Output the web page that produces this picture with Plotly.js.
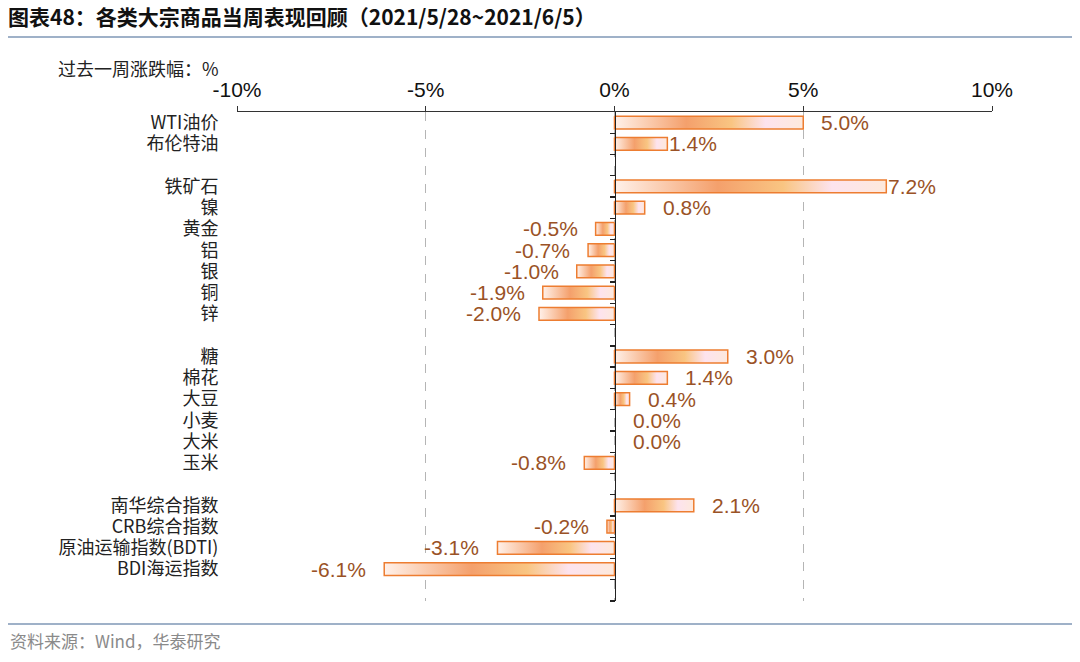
<!DOCTYPE html>
<html>
<head>
<meta charset="utf-8">
<script src="https://cdn.plot.ly/plotly-3.0.1.min.js"></script>
<style>html,body{margin:0;padding:0;background:#fff;}#chart{width:1080px;height:662px;}</style>
</head>
<body>
<div id="chart"></div>
<script>
// ---- data ----
const energyNames = ['WTI油价', '布伦特油'];
const energyVals = [5.0, 1.4];
const metalNames = ['铁矿石', '镍', '黄金', '铝', '银', '铜', '锌'];
const metalVals = [7.2, 0.8, -0.5, -0.7, -1.0, -1.9, -2.0];
const agriNames = ['糖', '棉花', '大豆', '小麦', '大米', '玉米'];
const agriVals = [3.0, 1.4, 0.4, 0.0, 0.0, -0.8];
const indexNames = ['南华综合指数', 'CRB综合指数', '原油运输指数(BDTI)', 'BDI海运指数'];
const indexVals = [2.1, -0.2, -3.1, -6.1];
const xTickVals = [-10, -5, 0, 5, 10];
const xTickText = ['-10%', '-5%', '0%', '5%', '10%'];

// ---- build rows (blank slot after each group) ----
const groups = [[energyNames, energyVals], [metalNames, metalVals], [agriNames, agriVals], [indexNames, indexVals]];
const rowPos = [], rowNames = [], rowVals = [];
let k = 0;
groups.forEach(([names, vals]) => {
  names.forEach((n, j) => { rowPos.push(k); rowNames.push(n); rowVals.push(vals[j]); k++; });
  k++; // gap slot
});
const nSlots = k;
const tightLabels = ['布伦特油', '铁矿石'];

// pixel helpers (plot area: left 237, width 755, top 112, height 489)
const PX = p => (p - 237) / 755;
const PY = p => 1 - (p - 112) / 489;

const grad = [[0, '#fff1ea'], [0.12, '#fcd8c2'], [0.38, '#f4a06c'], [0.62, '#f9c582'], [0.8, '#fde3ee'], [1, '#fde9dc']];
const half = 0.3;

const traces = [];
rowVals.forEach((v, i) => {
  if (v === 0) return;
  const y = rowPos[i];
  traces.push({
    type: 'scatter', mode: 'lines',
    x: [0, v, v, 0, 0],
    y: [y - half, y - half, y + half, y + half, y - half],
    fill: 'toself',
    fillgradient: { type: 'horizontal', colorscale: grad },
    line: { color: '#ed7d31', width: 1.5 },
    hoverinfo: 'skip', showlegend: false
  });
});
// empty trace so the zero-position axis (y2) is drawn
traces.push({ type: 'scatter', mode: 'lines', x: [], y: [], yaxis: 'y2', showlegend: false, hoverinfo: 'skip' });

const annotations = rowVals.map((v, i) => {
  const pos = v >= 0;
  const shift = tightLabels.includes(rowNames[i]) ? 0 : 16;
  return {
    x: v, y: rowPos[i], xref: 'x', yref: 'y',
    text: v.toFixed(1) + '%', showarrow: false,
    xanchor: pos ? 'left' : 'right', yanchor: 'middle',
    xshift: pos ? shift : -shift,
    font: { family: 'Liberation Sans, Arial, sans-serif', size: 21, color: '#9a5226' }
  };
});
annotations.push({
  x: PX(221), y: PY(68), xref: 'paper', yref: 'paper',
  text: '过去一周涨跌幅：%', showarrow: false, xanchor: 'right', yanchor: 'middle',
  font: { family: 'Noto Sans CJK SC, sans-serif', size: 18, color: '#222' }
});
annotations.push({
  x: PX(8), y: PY(640), xref: 'paper', yref: 'paper',
  text: '资料来源：Wind，华泰研究', showarrow: false, xanchor: 'left', yanchor: 'middle',
  font: { family: 'Noto Sans CJK SC, sans-serif', size: 17, color: '#8a8a8a' }
});

const boundaries = [];
for (let b = 0; b < nSlots; b++) boundaries.push(b + 0.5);

const layout = {
  width: 1080, height: 662,
  paper_bgcolor: '#fff', plot_bgcolor: '#fff',
  margin: { l: 237, r: 88, t: 112, b: 61 },
  title: {
    text: '<b>图表48：各类大宗商品当周表现回顾（2021/5/28~2021/6/5）</b>',
    xref: 'container', yref: 'container', x: 8 / 1080, xanchor: 'left',
    y: 1 - 18 / 662, yanchor: 'middle',
    font: { family: 'Noto Sans CJK SC, sans-serif', size: 21, color: '#111' }
  },
  xaxis: {
    side: 'top', range: [-10, 10], tickvals: xTickVals, ticktext: xTickText,
    showline: true, linecolor: '#333', linewidth: 1.3,
    ticks: 'outside', ticklen: 5, tickcolor: '#333',
    showgrid: true, gridcolor: '#b5b5b5', griddash: 'dash', gridwidth: 1,
    zeroline: false, fixedrange: true,
    tickfont: { family: 'Liberation Sans, Arial, sans-serif', size: 21, color: '#111' }
  },
  yaxis: {
    range: [nSlots - 0.5, -0.5], tickvals: rowPos, ticktext: rowNames,
    showline: false, showgrid: false, zeroline: false,
    ticks: 'outside', ticklen: 14, tickcolor: 'rgba(0,0,0,0)',
    tickfont: { family: 'Noto Sans CJK SC, sans-serif', size: 18, color: '#222' }
  },
  yaxis2: {
    overlaying: 'y', anchor: 'free', position: 0.5, side: 'left',
    range: [nSlots - 0.5, -0.5], tickvals: boundaries,
    showticklabels: false, ticks: 'outside', ticklen: 5, tickcolor: '#222', tickwidth: 1.3,
    showline: true, linecolor: '#222', linewidth: 1.6,
    showgrid: false, zeroline: false
  },
  shapes: [
    { type: 'line', xref: 'paper', yref: 'paper', x0: PX(8), x1: PX(1072), y0: PY(37), y1: PY(37), line: { color: '#7f97b6', width: 1.5 } },
    { type: 'line', xref: 'paper', yref: 'paper', x0: PX(8), x1: PX(1072), y0: PY(624), y1: PY(624), line: { color: '#7f97b6', width: 1.5 } }
  ],
  annotations: annotations,
  showlegend: false
};

Plotly.newPlot('chart', traces, layout, { staticPlot: true, displayModeBar: false });
</script>
</body>
</html>
